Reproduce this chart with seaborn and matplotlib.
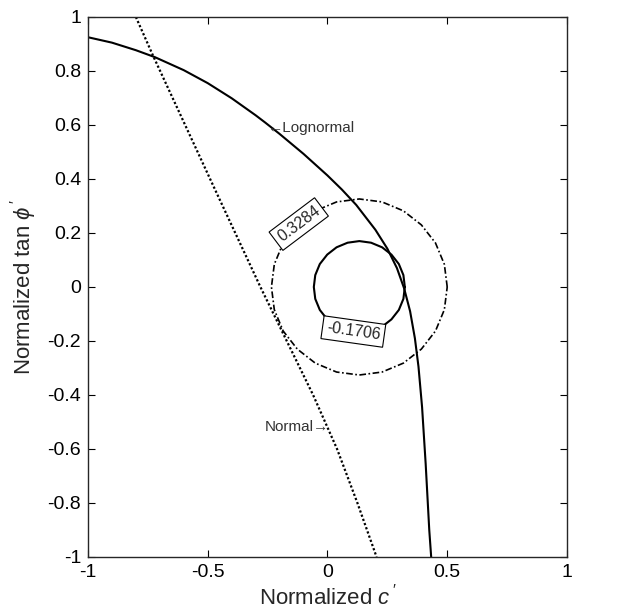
import numpy as np
import pandas as pd
import matplotlib
matplotlib.use("Agg")
import matplotlib.pyplot as plt
import seaborn as sns

# Limit state curves (normalized c', normalized tan phi')
logn_c = [-1.0, -0.9, -0.8, -0.72, -0.6, -0.5, -0.4, -0.3, -0.26, -0.2, -0.1, 0.0, 0.06,
          0.12, 0.2, 0.25, 0.29, 0.32, 0.345, 0.365, 0.38, 0.395, 0.41, 0.425, 0.433]
logn_t = [0.925, 0.905, 0.877, 0.851, 0.803, 0.755, 0.699, 0.636, 0.609, 0.567, 0.493, 0.413, 0.361,
          0.304, 0.212, 0.142, 0.07, -0.005, -0.09, -0.19, -0.295, -0.445, -0.655, -0.9, -1.0]

norm_c = [-0.80, -0.73, -0.49, -0.28, -0.17, -0.06, 0.04, 0.125, 0.205]
norm_t = [1.0, 0.86, 0.40, 0.0, -0.2, -0.4, -0.6, -0.8, -1.0]

# contour 0.3284 (dash-dot) and -0.1706 (solid)
big_c = [0.50, 0.488, 0.451, 0.392, 0.317, 0.228, 0.133, 0.038, -0.051, -0.126, -0.185, -0.222,
         -0.234, -0.222, -0.185, -0.126, -0.051, 0.038, 0.133, 0.228, 0.317, 0.392, 0.451, 0.488, 0.50]
big_t = [0.0, 0.084, 0.163, 0.230, 0.282, 0.315, 0.326, 0.315, 0.282, 0.230, 0.163, 0.084,
         0.0, -0.084, -0.163, -0.230, -0.282, -0.315, -0.326, -0.315, -0.282, -0.230, -0.163, -0.084, 0.0]

small_c = [0.323, 0.317, 0.298, 0.267, 0.228, 0.182, 0.133, 0.084, 0.038, -0.001, -0.032, -0.051,
           -0.057, -0.051, -0.032, -0.001, 0.038, 0.084, 0.133, 0.182, 0.228, 0.267, 0.298, 0.317, 0.323]
small_t = [0.0, 0.044, 0.085, 0.120, 0.147, 0.164, 0.170, 0.164, 0.147, 0.120, 0.085, 0.044,
           0.0, -0.044, -0.085, -0.120, -0.147, -0.164, -0.170, -0.164, -0.147, -0.120, -0.085, -0.044, 0.0]

ticks_x = [-1, -0.5, 0, 0.5, 1]
ticks_y = [-1, -0.8, -0.6, -0.4, -0.2, 0, 0.2, 0.4, 0.6, 0.8, 1]

sns.set_style("ticks")
plt.rcParams['font.family'] = ['Liberation Sans', 'DejaVu Sans']
plt.rcParams['mathtext.fontset'] = 'custom'
plt.rcParams['mathtext.rm'] = 'Liberation Sans'
plt.rcParams['mathtext.it'] = 'Liberation Sans:italic'

fig = plt.figure(figsize=(6.44, 6.11), dpi=100)
ax = fig.add_axes([0.1366, 0.0884, 0.7438, 0.8838])

sns.lineplot(x=logn_c, y=logn_t, sort=False, estimator=None, color='black', lw=1.5, ax=ax)
sns.lineplot(x=norm_c, y=norm_t, sort=False, estimator=None, color='black', lw=1.6,
             linestyle=(0, (1, 1)), ax=ax)
sns.lineplot(x=big_c, y=big_t, sort=False, estimator=None, color='black', lw=1.2,
             linestyle=(0, (4, 1.5, 1, 1.5)), ax=ax)
sns.lineplot(x=small_c, y=small_t, sort=False, estimator=None, color='black', lw=1.5, ax=ax)

box = dict(boxstyle='square,pad=0.25', fc='white', ec='black', lw=0.8)
ax.text(-0.12, 0.233, '0.3284', rotation=37, ha='center', va='center', fontsize=11.5,
        bbox=box, rotation_mode='anchor', zorder=5)
ax.text(0.108, -0.165, '-0.1706', rotation=-8, ha='center', va='center', fontsize=11.5,
        bbox=box, rotation_mode='anchor', zorder=5)

ax.text(-0.25, 0.59, '\u2190Lognormal', ha='left', va='center', fontsize=11, color='#333333')
ax.text(0.005, -0.52, 'Normal\u2192', ha='right', va='center', fontsize=11, color='#333333')

ax.set_xlim(-1, 1)
ax.set_ylim(-1, 1)
ax.set_xticks(ticks_x)
ax.set_yticks(ticks_y)
ax.set_xticklabels(['-1', '-0.5', '0', '0.5', '1'])
ax.set_yticklabels(['-1', '-0.8', '-0.6', '-0.4', '-0.2', '0', '0.2', '0.4', '0.6', '0.8', '1'])
ax.tick_params(direction='in', length=5, width=0.8, labelsize=14, top=True, right=True,
               colors='black', pad=5)
for s in ax.spines.values():
    s.set_linewidth(1.0)
    s.set_visible(True)
ax.set_xlabel("Normalized $c\\,'$", fontsize=16, labelpad=2)
ax.set_ylabel("Normalized tan $\\phi\\,'$", fontsize=16, labelpad=6)

fig.savefig('out.png', dpi=100)
